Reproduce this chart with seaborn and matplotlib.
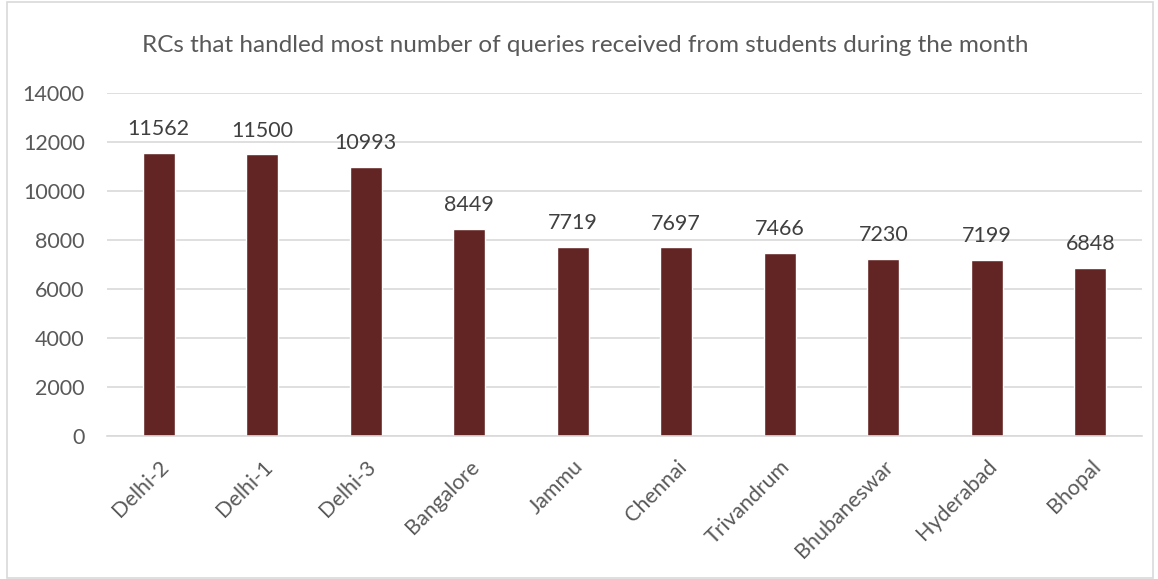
import matplotlib
matplotlib.use("Agg")
import matplotlib.pyplot as plt
import pandas as pd
import seaborn as sns
from matplotlib.patches import Rectangle

centres = ['Delhi-2', 'Delhi-1', 'Delhi-3', 'Bangalore', 'Jammu', 'Chennai',
           'Trivandrum', 'Bhubaneswar', 'Hyderabad', 'Bhopal']
queries = [11562, 11500, 10993, 8449, 7719, 7697, 7466, 7230, 7199, 6848]
yticks = [0, 2000, 4000, 6000, 8000, 10000, 12000, 14000]

df = pd.DataFrame({'RC': centres, 'Queries': queries})

sns.set_style('white')
plt.rcParams['font.family'] = ['Lato', 'DejaVu Sans']
grey = '#595959'

fig = plt.figure(figsize=(11.58, 5.79), dpi=100)
ax = fig.add_axes([0.0924, 0.2475, 0.8938, 0.5914])

sns.barplot(data=df, x='RC', y='Queries', color='#632523', width=0.31,
            saturation=1, ax=ax)

ax.set_ylim(0, 14000)
ax.set_xlim(-0.5, len(centres) - 0.5)
ax.set_yticks(yticks)
ax.set_yticklabels([str(v) for v in yticks], fontsize=15.5, color=grey)
ax.yaxis.grid(True, color='#d9d9d9', linewidth=1.2)
ax.set_axisbelow(True)
for s in ['top', 'right', 'left']:
    ax.spines[s].set_visible(False)
ax.spines['bottom'].set_color('#d9d9d9')
ax.spines['bottom'].set_linewidth(1.2)
ax.tick_params(axis='y', length=0, pad=16)
ax.tick_params(axis='x', length=0, pad=15)
plt.setp(ax.get_xticklabels(), rotation=45, ha='right', rotation_mode='anchor',
         fontsize=15.5, color=grey)
ax.set_xlabel('')
ax.set_ylabel('')

for c in ax.containers:
    ax.bar_label(c, labels=[str(v) for v in queries], padding=10,
                 fontsize=15.5, color='#404040')

fig.text(0.505, 0.922, 'RCs that handled most number of queries received from students during the month',
         ha='center', va='center', fontsize=17.5, color=grey)

fig.patches.append(Rectangle((0.006, 0.002), 0.99, 0.995, transform=fig.transFigure,
                             fill=False, edgecolor='#d9d9d9', linewidth=1.2))

fig.savefig('out.png', dpi=100)
